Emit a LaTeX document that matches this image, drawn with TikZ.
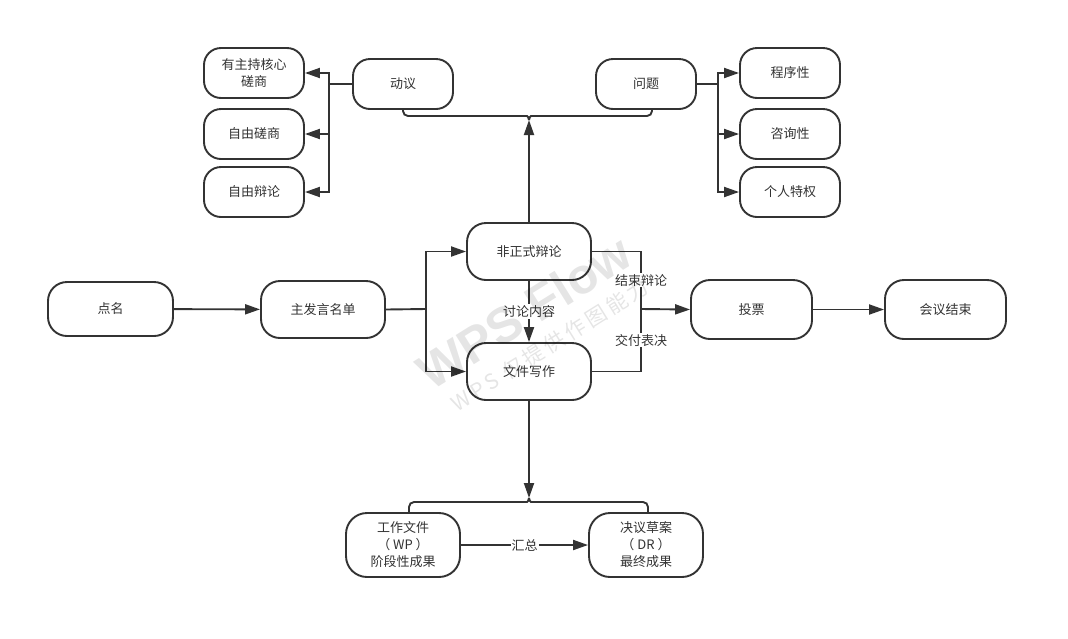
\documentclass[tikz,border=0pt]{standalone}
\usepackage{fontspec}
\setmainfont{Noto Sans CJK SC}
\newfontfamily\wmfont{Liberation Sans}
\usetikzlibrary{arrows.meta}
\definecolor{ln}{HTML}{333333}
\begin{document}
\begin{tikzpicture}[x=1pt,y=1pt,
  pill/.style={draw=ln, line width=1.9pt, rounded corners=19pt, align=center, inner sep=0pt,
     font=\fontsize{13}{17}\selectfont, text=ln, fill=white},
  small/.style={pill, minimum width=100pt, minimum height=50pt, rounded corners=17pt},
  big/.style={pill, minimum width=124pt, minimum height=57pt},
  ln/.style={draw=ln, line width=1.9pt},
  arr/.style={ln, -{Triangle[length=15pt,width=10pt]}},
  lbl/.style={fill=white, inner sep=1pt, font=\fontsize{13}{15}\selectfont, text=ln},
  wmark/.style={rotate=32, text=black, text opacity=0.1}]
\useasboundingbox (0,0) rectangle (1068,-638);
\fill[white] (0,0) rectangle (1068,-638);
% nodes
\node[big, minimum width=125pt, minimum height=54pt] (dm) at (110.5,-309) {点名};
\node[big] (zf) at (323,-309.5) {主发言名单};
\node[big] (fz) at (529,-251.5) {非正式辩论};
\node[big] (wj) at (529,-371.5) {文件写作};
\node[big, minimum width=121pt, minimum height=59pt] (tp) at (751.5,-309.5) {投票};
\node[big, minimum width=121pt, minimum height=59pt] (hy) at (945.5,-309.5) {会议结束};
\node[small] (dy) at (403,-84) {动议};
\node[small] (wt) at (646,-84) {问题};
\node[small] (ys) at (254,-73) {有主持核心\\磋商};
\node[small] (zc) at (254,-134) {自由磋商};
\node[small] (zb) at (254,-192) {自由辩论};
\node[small] (cx) at (790,-73) {程序性};
\node[small] (zx) at (790,-134) {咨询性};
\node[small] (gr) at (790,-192) {个人特权};
\node[pill, minimum width=114pt, minimum height=64pt, rounded corners=21pt] (gz) at (403,-545) {工作文件\\（ WP ）\\阶段性成果};
\node[pill, minimum width=114pt, minimum height=64pt, rounded corners=21pt] (jy) at (646,-545) {决议草案\\（ DR ）\\最终成果};
% junctions
\coordinate (j1) at (426,-309);
\coordinate (j2) at (641,-309);
\coordinate (j3) at (329,-84);
\coordinate (j4) at (718,-84);
\coordinate (c1) at (529,-120);
\coordinate (c2) at (529,-498);
% connectors
\draw[arr] (dm) -- (zf);
\draw[ln] (zf.east) -- (j1);
\draw[arr] (j1) |- (fz.west);
\draw[arr] (j1) |- (wj.west);
\draw[arr] (fz) -- (wj) node[lbl, pos=0.5] {讨论内容};
\draw[ln] (fz.east) -| (j2) node[lbl, pos=0.75] {结束辩论};
\draw[ln] (wj.east) -| (j2) node[lbl, pos=0.75] {交付表决};
\draw[arr] (j2) -- (tp.west);
\draw[arr] (tp) -- (hy);
\draw[ln] (dy.west) -- (j3);
\draw[arr] (j3) |- (ys.east);
\draw[arr] (j3) |- (zc.east);
\draw[arr] (j3) |- (zb.east);
\draw[ln] (wt.east) -- (j4);
\draw[arr] (j4) |- (cx.west);
\draw[arr] (j4) |- (zx.west);
\draw[arr] (j4) |- (gr.west);
\draw[arr] (fz.north) -- (c1);
\draw[ln, rounded corners=5pt] (dy.south) |- (522,-116) .. controls (527,-116) and (529,-117) .. (c1);
\draw[ln, rounded corners=5pt] ([xshift=6pt]wt.south) |- (536,-116) .. controls (531,-116) and (529,-117) .. (c1);
\draw[arr] (wj.south) -- (c2);
\draw[ln, rounded corners=5pt] ([xshift=6pt]gz.north) |- (522,-502) .. controls (527,-502) and (529,-501) .. (c2);
\draw[ln, rounded corners=5pt] ([xshift=2pt]jy.north) |- (536,-502) .. controls (531,-502) and (529,-501) .. (c2);
\draw[arr] (gz) -- (jy) node[lbl, pos=0.5] {汇总};
% watermark
\node[wmark, font=\wmfont\bfseries\fontsize{50}{50}\selectfont] (wm1) at (524,-312) {WPS Flow};
\node[wmark, font=\fontsize{21}{21}\selectfont] (wm2) at (550,-345) {W\,P\,S\, 仅\,提\,供\,作\,图\,能\,力};
\end{tikzpicture}
\end{document}
